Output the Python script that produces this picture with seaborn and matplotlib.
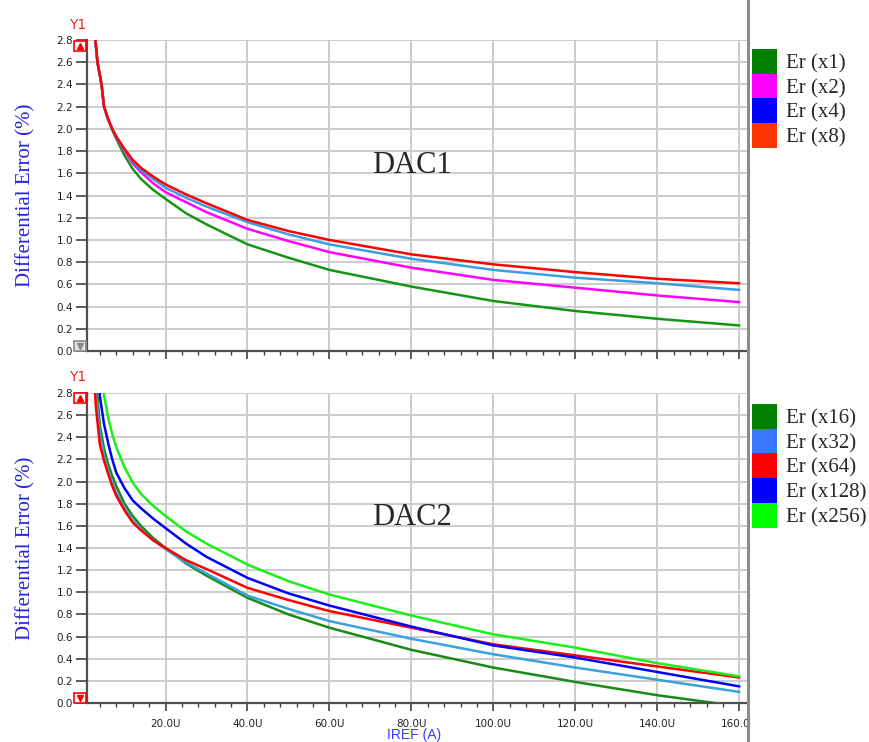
import numpy as np
import pandas as pd
import matplotlib
matplotlib.use("Agg")
import matplotlib.pyplot as plt
import seaborn as sns
from matplotlib.patches import Patch, Rectangle
from matplotlib.lines import Line2D
from matplotlib.ticker import MultipleLocator, FuncFormatter

# ---------------- data (IREF in uA, error in %) ----------------
iref_top = [2.9, 3.4, 4.4, 5.0, 6.0, 7.0, 8.0, 10, 12, 14, 17, 20, 25, 30, 40, 50, 60, 80, 100, 120, 140, 160]
er_x1 = [2.8, 2.6, 2.4, 2.2, 2.08, 1.99, 1.91, 1.76, 1.64, 1.55, 1.45, 1.37, 1.24, 1.14, 0.96, 0.84, 0.73, 0.58, 0.45, 0.36, 0.29, 0.23]
er_x2 = [2.8, 2.6, 2.4, 2.2, 2.09, 2.0, 1.92, 1.80, 1.69, 1.61, 1.51, 1.43, 1.34, 1.25, 1.10, 0.99, 0.89, 0.75, 0.64, 0.57, 0.50, 0.44]
er_x4 = [2.8, 2.6, 2.4, 2.2, 2.09, 2.0, 1.93, 1.81, 1.71, 1.63, 1.55, 1.47, 1.38, 1.30, 1.16, 1.05, 0.96, 0.83, 0.73, 0.66, 0.61, 0.55]
er_x8 = [2.8, 2.6, 2.4, 2.2, 2.09, 2.0, 1.93, 1.82, 1.72, 1.65, 1.57, 1.50, 1.41, 1.33, 1.18, 1.08, 1.00, 0.87, 0.78, 0.71, 0.65, 0.61]

iref_bot = [2.5, 3, 4, 5, 6, 7, 8, 10, 12, 14, 17, 20, 25, 30, 40, 50, 60, 80, 100, 120, 140, 160]
er_x16 = [3.3, 2.95, 2.5, 2.3, 2.16, 2.05, 1.96, 1.80, 1.69, 1.60, 1.49, 1.40, 1.26, 1.15, 0.95, 0.80, 0.68, 0.48, 0.32, 0.19, 0.07, -0.03]
er_x32 = [3.15, 2.8, 2.43, 2.24, 2.10, 2.0, 1.90, 1.76, 1.65, 1.57, 1.47, 1.39, 1.27, 1.17, 0.97, 0.85, 0.74, 0.58, 0.44, 0.32, 0.21, 0.10]
er_x64 = [3.0, 2.68, 2.33, 2.19, 2.07, 1.96, 1.87, 1.74, 1.63, 1.56, 1.47, 1.40, 1.29, 1.21, 1.04, 0.93, 0.83, 0.68, 0.53, 0.43, 0.33, 0.23]
er_x128 = [3.6, 3.25, 2.77, 2.52, 2.35, 2.2, 2.08, 1.94, 1.83, 1.76, 1.665, 1.58, 1.44, 1.32, 1.13, 0.99, 0.88, 0.69, 0.52, 0.41, 0.28, 0.15]
er_x256 = [4.2, 3.8, 3.2, 2.78, 2.58, 2.43, 2.31, 2.13, 1.99, 1.89, 1.78, 1.69, 1.55, 1.44, 1.25, 1.10, 0.98, 0.79, 0.62, 0.50, 0.36, 0.24]

labels_top = ["Er (x1)", "Er (x2)", "Er (x4)", "Er (x8)"]
labels_bot = ["Er (x16)", "Er (x32)", "Er (x64)", "Er (x128)", "Er (x256)"]
x_ticks = [20, 40, 60, 80, 100, 120, 140, 160]
y_ticks = [0.0, 0.2, 0.4, 0.6, 0.8, 1.0, 1.2, 1.4, 1.6, 1.8, 2.0, 2.2, 2.4, 2.6, 2.8]

line_top = ["#149614", "#ff00ff", "#3a9ee0", "#ff0000"]
leg_top = ["#007f00", "#ff00ff", "#0000ff", "#ff3300"]
line_bot = ["#178a17", "#3aa0de", "#ff0000", "#0000ff", "#19f019"]
leg_bot = ["#007f00", "#3a78ff", "#ff0000", "#0000ff", "#00ff00"]

# ---------------- long-form tables ----------------
def long_table(x, series, labels):
    frames = [pd.DataFrame({"iref": x, "err": s, "series": lab}) for s, lab in zip(series, labels)]
    return pd.concat(frames, ignore_index=True)

df_top = long_table(iref_top, [er_x1, er_x2, er_x4, er_x8], labels_top)
df_bot = long_table(iref_bot, [er_x16, er_x32, er_x64, er_x128, er_x256], labels_bot)

# ---------------- figure ----------------
sns.set_style("white")
plt.rcParams["font.family"] = ["DejaVu Sans"]

W, H = 869, 742
fig = plt.figure(figsize=(W / 100, H / 100), dpi=100)

def fx(px):
    return px / W

def fy(py):
    return 1 - py / H

ax_top = fig.add_axes([fx(87), fy(351), fx(748) - fx(87), fy(40) - fy(351)])
ax_bot = fig.add_axes([fx(87), fy(703), fx(748) - fx(87), fy(393) - fy(703)])

SERIF = "Liberation Serif"

for ax, df, labs, cols in [(ax_top, df_top, labels_top, line_top),
                           (ax_bot, df_bot, labels_bot, line_bot)]:
    sns.lineplot(data=df, x="iref", y="err", hue="series", hue_order=labs,
                 palette=dict(zip(labs, cols)), linewidth=1.8, ax=ax,
                 legend=False, sort=False)
    ax.set_xlim(0.85, 162.1)
    ax.set_ylim(0.0, 2.8)
    ax.set_xticks(x_ticks)
    ax.xaxis.set_minor_locator(MultipleLocator(4))
    ax.set_yticks(y_ticks)
    ax.yaxis.set_major_formatter(FuncFormatter(lambda v, p: f"{v:.1f}"))
    ax.xaxis.set_major_formatter(FuncFormatter(lambda v, p: f"{v:.1f}U"))
    ax.grid(True, which="major", color="#cccccc", linewidth=1.4)
    ax.set_axisbelow(True)
    for s in ["top", "right"]:
        ax.spines[s].set_visible(False)
    for s in ["left", "bottom"]:
        ax.spines[s].set_color("#505050")
        ax.spines[s].set_linewidth(1.6)
    ax.tick_params(axis="y", which="major", direction="out", length=8, width=1.2,
                   color="#404040", labelsize=7.5, labelcolor="#202020", pad=2, left=True)
    ax.tick_params(axis="x", which="major", direction="out", length=6, width=1.2,
                   color="#404040", labelsize=7.5, labelcolor="#202020", pad=5.5, bottom=True)
    ax.tick_params(axis="x", which="minor", direction="out", length=3, width=1.0,
                   color="#404040", bottom=True)
    ax.set_xlabel("")
    ax.set_ylabel("Differential Error (%)", family=SERIF, fontsize=15,
                  color="#2323e0", labelpad=15)

ax_top.tick_params(axis="x", labelbottom=False)

# panel titles
ax_top.text(80, 1.6, "DAC1", family=SERIF, fontsize=22, ha="center", va="baseline")
ax_bot.text(80, 1.61, "DAC2", family=SERIF, fontsize=22, ha="center", va="baseline")

# x axis label
fig.text(fx(387), fy(742), "IREF (A)", color="#3a3aff", fontsize=10,
         family="Liberation Sans", ha="left", va="bottom")

# Y1 markers
for yy in (25, 377):
    fig.text(fx(78), fy(yy), "Y1", color="#ff2020", fontsize=10, ha="center", va="center")

# scroll buttons
def button(x0, y0, w, h, ec, fc, up):
    fig.add_artist(Rectangle((fx(x0), fy(y0 + h)), w / W, h / H, transform=fig.transFigure,
                             facecolor=fc, edgecolor=ec, linewidth=1.2, zorder=12))
    fig.add_artist(Line2D([fx(x0 + w / 2)], [fy(y0 + h / 2)], marker="^" if up else "v",
                          color=ec, markersize=5, linestyle="none",
                          transform=fig.transFigure, zorder=13))

button(74, 41, 12, 10, "#ff0000", "white", True)
button(74, 341, 12, 10, "#8a8a8a", "#e4e4e4", False)
button(74, 393, 12, 10, "#ff0000", "white", True)
button(74, 693, 12, 10, "#ff0000", "white", False)

# cover right of separator (clips last tick label) and separator line
fig.add_artist(Rectangle((fx(749), 0), 1 - fx(749), fy(700), transform=fig.transFigure,
                         facecolor="white", edgecolor="none", zorder=10))
fig.add_artist(Line2D([fx(748), fx(748)], [0, 1], transform=fig.transFigure,
                      color="#8c8c8c", linewidth=2.2, zorder=11))

# legends
def legend(labels, colors, top_px):
    handles = [Patch(facecolor=c, edgecolor="none") for c in colors]
    fig.legend(handles, labels, loc="upper left", bbox_to_anchor=(fx(752), fy(top_px)),
               frameon=False, borderpad=0, borderaxespad=0, labelspacing=0,
               handlelength=1.2, handleheight=1.45, handletextpad=0.45,
               prop={"family": SERIF, "size": 15})

legend(labels_top, leg_top, 49)
legend(labels_bot, leg_bot, 404)

fig.savefig("out.png", dpi=100)
